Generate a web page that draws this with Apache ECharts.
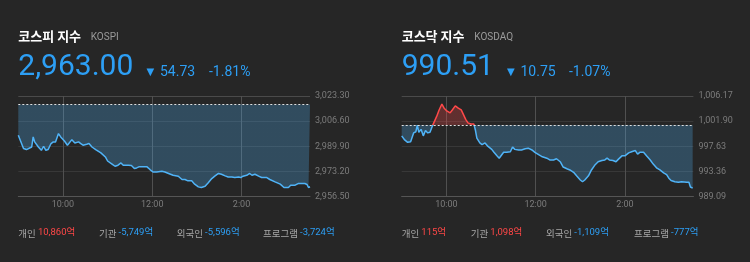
<!DOCTYPE html>
<html>
<head>
<meta charset="utf-8">
<script src="https://cdn.jsdelivr.net/npm/echarts@6/dist/echarts.min.js"></script>
<style>
html,body{margin:0;padding:0;background:#262626;}
#c{width:750px;height:262px;}
</style>
</head>
<body>
<div id="c"></div>
<script>
// ---------- data ----------
const indexNames = ['코스피 지수', '코스닥 지수'];
const indexCodes = ['KOSPI', 'KOSDAQ'];
const closes = [2963.00, 990.51];
const changes = [54.73, 10.75];
const changePct = ['-1.81%', '-1.07%'];
const prevCloses = [3017.73, 1001.26];

const timeTickValues = [60, 180, 300];           // minutes after 09:00
const timeTickLabels = ['10:00', '12:00', '2:00'];

const kospiTicks = [2956.50, 2973.20, 2989.90, 3006.60, 3023.30];
const kosdaqTicks = [989.09, 993.36, 997.63, 1001.90, 1006.17];

const kospiMinutes = [0,7,11,13,18,20,22,27,31,34,
 37,40,44,47,50,54,57,62,66,72,
 76,81,84,87,92,95,99,104,111,117,
 120,126,130,134,138,141,148,152,156,159,
 162,168,173,177,181,186,193,197,202,208,
 215,220,224,228,233,237,242,246,251,255,
 260,264,269,273,278,282,287,291,296,299,
 302,307,311,314,318,323,327,334,338,345,
 352,357,363,366,372,376,381,385,388,390,
 392];
const kospiValues = [2997.2,2988.4,2987.7,2989.0,2989.4,2996.1,2992.8,2989.4,2987.2,2989.9,
 2987.2,2987.7,2991.7,2992.8,2992.8,2998.3,2996.1,2993.4,2990.6,2994.3,
 2992.1,2992.8,2991.7,2990.6,2991.2,2991.7,2989.4,2987.7,2985.5,2982.8,
 2980.1,2978.0,2976.6,2977.3,2978.8,2977.3,2977.3,2977.1,2975.1,2975.5,
 2976.2,2976.2,2976.2,2974.4,2972.8,2972.8,2973.3,2972.8,2971.8,2970.6,
 2970.0,2967.8,2967.8,2966.9,2966.9,2964.7,2962.9,2962.5,2963.3,2965.5,
 2968.4,2970.0,2971.8,2971.3,2970.2,2969.5,2969.5,2969.1,2969.5,2969.1,
 2970.0,2970.6,2971.8,2970.6,2971.3,2970.0,2969.1,2969.1,2967.8,2966.2,
 2964.7,2962.5,2962.5,2964.0,2964.0,2965.1,2965.1,2965.1,2964.5,2962.5,
 2963.0];

const kosdaqMinutes = [0,4,8,12,16,19,21,23,26,29,
 32,35,38,41,43,47,50,54,57,60,
 65,68,72,76,80,83,86,89,93,97,
 99,101,105,108,112,116,121,124,128,131,
 133,137,141,146,149,152,157,161,166,170,
 175,179,184,188,195,199,204,208,213,217,
 222,226,231,235,240,243,246,251,255,260,
 264,269,273,276,279,284,288,291,296,300,
 305,309,314,317,320,325,329,334,338,343,
 347,352,356,359,362,367,372,376,383,386,
 388,391];
const kosdaqValues = [999.4,998.7,998.3,998.4,999.9,1000.1,1001.2,1000.0,1000.5,999.4,
 1000.3,999.9,1000.0,1001.0,1001.3,1002.7,1003.7,1004.8,1004.1,1003.7,
 1003.3,1003.8,1004.5,1004.1,1003.8,1003.0,1002.2,1001.6,1001.4,1001.4,
 1000.4,999.0,998.2,997.9,998.2,997.6,997.1,996.6,996.0,995.6,
 995.9,996.6,996.6,996.7,997.5,997.1,997.0,997.0,997.2,997.3,
 997.0,996.6,996.2,995.9,995.6,995.3,995.3,995.5,995.0,994.1,
 993.8,993.6,993.2,992.6,991.9,991.6,991.9,992.6,993.6,994.5,
 995.0,995.2,995.3,995.6,995.3,995.2,995.0,995.4,996.0,996.0,
 996.5,996.7,996.9,996.3,996.6,996.6,996.0,995.3,994.6,993.9,
 993.6,993.1,992.8,992.2,991.8,991.6,991.5,991.6,991.5,991.5,
 990.7,990.51];

const investorLabels = ['개인', '기관', '외국인', '프로그램'];
const kospiInvestors = ['10,860억', '-5,749억', '-5,596억', '-3,724억'];
const kosdaqInvestors = ['115억', '1,098억', '-1,109억', '-777억'];

// ---------- styles ----------
const BLUE_TEXT = '#2d9ff5';
const RED_TEXT = '#ff4747';
const LINE_BLUE = '#4fb3f7';
const LINE_RED = '#ff4848';
const NUM_FONT = 'Roboto, "Noto Sans CJK KR", sans-serif';
const KR_FONT = '"Noto Sans CJK KR", Roboto, sans-serif';

function fmt2(v) {
  return v.toLocaleString('en-US', {minimumFractionDigits: 2, maximumFractionDigits: 2});
}
function pairs(xs, ys) { return xs.map((x, i) => [x, ys[i]]); }

const panels = [
  {left: 18.3, ticks: kospiTicks, data: pairs(kospiMinutes, kospiValues), invX: [18.3, 99, 176.7, 263], inv: kospiInvestors},
  {left: 401.7, ticks: kosdaqTicks, data: pairs(kosdaqMinutes, kosdaqValues), invX: [401.7, 470.7, 546, 634], inv: kosdaqInvestors}
];

const grids = [], xAxes = [], yAxes = [], series = [], visualMaps = [], graphics = [];

panels.forEach((p, i) => {
  grids.push({left: p.left, top: 96, width: 291.7, height: 100.5});
  xAxes.push({
    type: 'value', gridIndex: i, min: 0, max: 392,
    axisLine: {show: true, lineStyle: {color: '#555', width: 1}},
    axisTick: {show: false, customValues: timeTickValues},
    axisLabel: {
      customValues: timeTickValues, color: '#7c7c7c', fontSize: 9, margin: 4,
      fontFamily: NUM_FONT,
      formatter: v => timeTickLabels[timeTickValues.indexOf(v)] || ''
    },
    splitLine: {show: true, lineStyle: {color: '#505050', width: 1}}
  });
  yAxes.push({
    type: 'value', gridIndex: i, position: 'right',
    min: p.ticks[0], max: p.ticks[p.ticks.length - 1],
    axisLine: {show: false},
    axisTick: {show: false, customValues: p.ticks},
    axisLabel: {
      customValues: p.ticks, color: '#7c7c7c', fontSize: 9, margin: 5,
      fontFamily: NUM_FONT, padding: [6, 0, 0, 0],
      formatter: v => fmt2(v)
    },
    splitLine: {show: true, lineStyle: {color: ['#4a4a4a', '#383838', '#383838', '#383838', '#4a4a4a'], width: 1}}
  });
  series.push({
    type: 'line', xAxisIndex: i, yAxisIndex: i,
    data: p.data, showSymbol: false, symbol: 'none',
    lineStyle: {width: 1.5},
    areaStyle: {origin: prevCloses[i], opacity: 0.27},
    animation: false,
    markLine: {
      silent: true, symbol: 'none', animation: false,
      label: {show: false},
      lineStyle: {color: '#e0e0e0', type: [2, 2], width: 1},
      data: [{yAxis: prevCloses[i]}]
    }
  });
  visualMaps.push({
    type: 'piecewise', show: false, seriesIndex: i, dimension: 1,
    pieces: [
      {lte: p.ticks[0], color: LINE_BLUE},
      {gt: p.ticks[0], lte: prevCloses[i], color: LINE_BLUE},
      {gt: prevCloses[i], color: LINE_RED}
    ]
  });

  // header texts
  graphics.push({type: 'text', x: p.left, y: 36, style: {text: indexNames[i], fill: '#ffffff', font: 'bold 13px ' + KR_FONT, verticalAlign: 'middle'}});
  graphics.push({type: 'text', x: p.left + (i === 0 ? 72.4 : 72.6), y: 37, style: {text: indexCodes[i], fill: '#9a9a9a', font: '10px ' + NUM_FONT, verticalAlign: 'middle'}});
  graphics.push({type: 'text', x: p.left, y: 67, style: {text: fmt2(closes[i]), fill: BLUE_TEXT, font: '30px ' + NUM_FONT, verticalAlign: 'middle'}});
  const bx = i === 0 ? 146.5 : 507;
  graphics.push({type: 'text', x: bx, y: 72.5, style: {text: '▼', fill: BLUE_TEXT, font: '10px "DejaVu Sans"', verticalAlign: 'middle'}});
  graphics.push({type: 'text', x: bx + 13.5, y: 72.5, style: {text: fmt2(changes[i]), fill: BLUE_TEXT, font: '14px ' + NUM_FONT, verticalAlign: 'middle'}});
  graphics.push({type: 'text', x: i === 0 ? 209 : 569, y: 72.5, style: {text: changePct[i], fill: BLUE_TEXT, font: '14px ' + NUM_FONT, verticalAlign: 'middle'}});

  // investor row
  investorLabels.forEach((lab, k) => {
    const amt = p.inv[k];
    graphics.push({
      type: 'text', x: p.invX[k], y: 233,
      style: {
        text: '{l|' + lab + '} {v|' + amt + '}',
        verticalAlign: 'middle',
        font: '9.5px ' + KR_FONT,
        rich: {
          l: {fill: '#a6a6a6', font: '9.5px ' + KR_FONT},
          v: {fill: amt.charAt(0) === '-' ? BLUE_TEXT : RED_TEXT, font: '9.5px ' + NUM_FONT}
        }
      }
    });
  });
});

const chart = echarts.init(document.getElementById('c'), null, {renderer: 'canvas'});
chart.setOption({
  backgroundColor: '#262626',
  animation: false,
  grid: grids,
  xAxis: xAxes,
  yAxis: yAxes,
  visualMap: visualMaps,
  series: series,
  graphic: graphics
});
</script>
</body>
</html>
